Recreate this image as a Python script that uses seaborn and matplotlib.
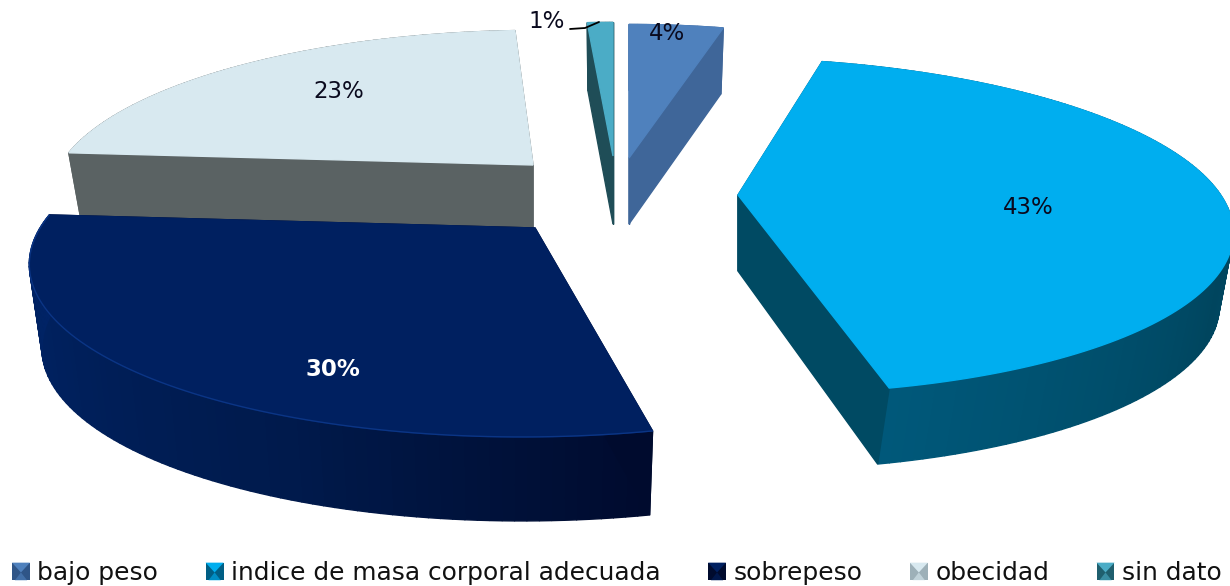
import numpy as np
import matplotlib
matplotlib.use("Agg")
import matplotlib.pyplot as plt
from matplotlib.legend_handler import HandlerBase
from matplotlib.patches import Patch, Polygon
import seaborn as sns

# Body mass index categories and their share of the sample (percent)
categories = ["bajo peso", "indice de masa corporal adecuada", "sobrepeso", "obecidad", "sin dato"]
shares = [4, 43, 30, 23, 1]

# Slice styling, in the same order as the categories
top_colors = ["#4F81BD", "#00AEEF", "#002060", "#D8E9F0", "#4BACC6"]
wall_colors = ["#3F6699", "#004A63", "#000B2E", "#5A6263", "#1F4D57"]
outer_shades = [
    ["#3F6699", "#3F6699"],
    ["#00506E", "#00506E", "#00455E", "#00587A"],
    ["#000B2E", "#001A4C", "#00205C", "#002468"],
    ["#5A6263", "#5A6263"],
    ["#1F4D57", "#1F4D57"],
]
key_edges = ["#2F5587", "#005F85", "#000B2E", "#9DB0B8", "#1F5F6E"]
label_colors = ["#0A0A1E", "#0A0A1E", "#FFFFFF", "#0A0A1E", "#0A0A1E"]
label_weights = ["normal", "normal", "bold", "normal", "normal"]

# Layout per slice: exploded apex, extrusion depth, label anchor (pixels),
# and small corrections of the projection
apexes = [(629, 158), (738, 195), (535, 228), (533, 165), (613, 156)]
depths = [66, 76, 84, 64, 68]
label_xy = [(667, 34), (1028, 207), (333, 369), (339, 91), (547, 21)]
x_stretch = [0.92, 0.985, 1.01, 0.965, 1.0]
x_shear = [0.0, 0.125, -0.063, -0.05, 0.0]
y_stretch = [0.97, 0.995, 1.046, 0.978, 0.97]
front_pull = [0, 8, 0, 0, 0]

# Perspective projection of the pie plane
RADIUS_X, RADIUS_Y, TILT = 490, 163, 0.184
BOTTOM_PINCH = 0.975

sns.set_theme(style="white")
plt.rcParams["font.family"] = ["DejaVu Sans"]


def project(i, theta, radial=1.0, depth=0.0):
    """Map clockwise angles (radians from 12 o'clock) to pixel positions of slice i."""
    u, v = radial * np.sin(theta), radial * np.cos(theta)
    scale = 1 / (1 + TILT * v)
    dy = -RADIUS_Y * v * scale * y_stretch[i]
    dx = RADIUS_X * u * scale * x_stretch[i] + x_shear[i] * dy
    if depth:
        dx = dx * BOTTOM_PINCH + front_pull[i] * np.minimum(v, 0)
    return apexes[i][0] + dx, apexes[i][1] + dy + depth


def quad(ax, xs, ys, color, zorder):
    ax.add_patch(Polygon(np.column_stack([xs, ys]), closed=True, facecolor=color,
                         edgecolor=color, linewidth=1.0, zorder=zorder))


class BevelHandler(HandlerBase):
    """Legend key drawn as a small bevelled square."""

    def create_artists(self, legend, orig, xd, yd, width, height, fontsize, trans):
        x0, y0, x1, y1 = -xd, -yd, -xd + width, -yd + height
        xc, yc = (x0 + x1) / 2, y0 + (y1 - y0) * 0.45
        base = Polygon([(x0, y0), (x1, y0), (x1, y1), (x0, y1)], closed=True,
                       facecolor=orig.get_edgecolor(), edgecolor="none", transform=trans)
        upper = Polygon([(x0, y1), (x1, y1), (xc, yc)], closed=True,
                        facecolor=orig.get_facecolor(), edgecolor="none", transform=trans)
        lower = Polygon([(x0 + 2, y0), (x1 - 2, y0), (xc, yc)], closed=True,
                        facecolor=orig.get_facecolor(), alpha=0.6, edgecolor="none", transform=trans)
        return [base, lower, upper]


fig = plt.figure(figsize=(12.3, 5.86), dpi=100)
ax = fig.add_axes([0, 0, 1, 1])
ax.set_xlim(0, 1230)
ax.set_ylim(586, 0)
ax.axis("off")

fractions = np.asarray(shares) / sum(shares)
starts = 2 * np.pi * np.concatenate([[0], np.cumsum(fractions)[:-1]])
ends = starts + 2 * np.pi * fractions

# Back slices first, so the nearer ones overlap them
paint_order = [3, 4, 0, 1, 2]
for rank, i in enumerate(paint_order):
    z = 10 + rank * 5
    apex, depth = apexes[i], depths[i]
    theta = np.linspace(starts[i], ends[i], max(int(shares[i] * 3), 8))

    # Outer rim, shaded along the arc
    tx, ty = project(i, theta)
    bx, by = project(i, theta, depth=depth)
    shades = sns.blend_palette(outer_shades[i], n_colors=len(theta) - 1)
    for k in range(len(theta) - 1):
        quad(ax, [tx[k], tx[k + 1], bx[k + 1], bx[k]], [ty[k], ty[k + 1], by[k + 1], by[k]], shades[k], z)

    # Radial cut faces
    for edge in (starts[i], ends[i]):
        ex, ey = project(i, edge)
        fx, fy = project(i, edge, depth=depth)
        cx, cy = project(i, edge, radial=0.0)
        gx, gy = project(i, edge, radial=0.0, depth=depth)
        quad(ax, [cx, ex, fx, gx], [cy, ey, fy, gy], wall_colors[i], z + 1)

    # Top face
    quad(ax, np.r_[apex[0], tx], np.r_[apex[1], ty], top_colors[i], z + 2)

    if i == 2:
        ax.plot(tx, ty, color="#0B3585", lw=1.0, zorder=z + 3)

# Percentage labels, with a leader line for the smallest slice
for i, (x, y) in enumerate(label_xy):
    ax.text(x, y, f"{shares[i]}%", color=label_colors[i], fontweight=label_weights[i],
            fontsize=16.5, ha="center", va="center", zorder=60)
ax.plot([570, 585, 599], [29, 28, 22], color="black", lw=1.3, zorder=60)

handles = [Patch(facecolor=top_colors[i], edgecolor=key_edges[i]) for i in range(len(categories))]
legend = ax.legend(handles, categories, loc="lower center", bbox_to_anchor=(0.5015, -0.037),
                   ncol=5, frameon=False, fontsize=17.95, handlelength=0.72, handleheight=0.72,
                   handletextpad=0.3, columnspacing=1.9, labelcolor="#111111",
                   handler_map={Patch: BevelHandler()})

fig.savefig("out.png", dpi=100, facecolor="white")
